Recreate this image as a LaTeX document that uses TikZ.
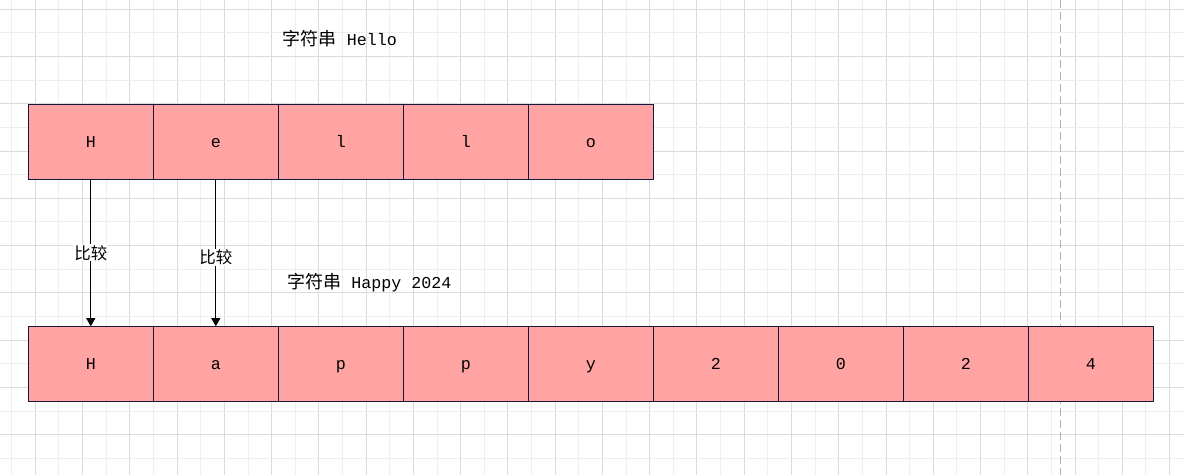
\documentclass[tikz,border=0pt]{standalone}
\usepackage{fontspec}
\newfontfamily\hanzi{Noto Sans CJK SC}
\newfontfamily\latinmono{Liberation Mono}
\usetikzlibrary{arrows.meta, positioning}
\definecolor{cellred}{RGB}{255,163,163}
\definecolor{celledge}{RGB}{22,24,66}
\definecolor{gridminor}{RGB}{238,238,238}
\definecolor{gridmajor}{RGB}{219,219,219}
\definecolor{guidegray}{RGB}{178,178,178}

\begin{document}
\begin{tikzpicture}[x=1pt,y=-1pt,
    cell/.style={draw=celledge, fill=cellred, line width=1.1pt, minimum width=125pt, minimum height=75pt,
      inner sep=0pt, outer sep=0pt, text height=14pt, text depth=3pt,
      font=\latinmono\fontsize{16.67}{20}\selectfont},
    caption/.style={inner sep=0pt, font=\latinmono\fontsize{16.67}{20}\selectfont},
    cmp/.style={line width=1pt, -{Triangle[width=9pt,length=8pt]}},
    cmplabel/.style={fill=white, inner sep=1pt, font=\hanzi\fontsize{16.5}{18}\selectfont}]
        \useasboundingbox (0,0) rectangle (1184,475);
        \fill[white] (0,0) rectangle (1184,475);
        % background grid
        \foreach \k in {0,...,24} {
          \draw[gridminor, line width=1pt] (11.7+47.26*\k,0) -- (11.7+47.26*\k,475);
          \draw[gridmajor, line width=1pt] (35.33+47.26*\k,0) -- (35.33+47.26*\k,475);
        }
        \foreach \k in {0,...,9} {
          \draw[gridminor, line width=1pt] (0,32.93+47.26*\k) -- (1184,32.93+47.26*\k);
          \draw[gridmajor, line width=1pt] (0,9.3+47.26*\k) -- (1184,9.3+47.26*\k);
        }
        \draw[guidegray, line width=1pt, dash pattern=on 8pt off 4pt] (1060.3,0) -- (1060.3,475);
        % captions
        \node[caption] (cap1) at (339.8,38.5) {{\hanzi\fontsize{18}{20}\selectfont 字符串} Hello};
        \node[caption] (cap2) at (369.3,282.5) {{\hanzi\fontsize{18}{20}\selectfont 字符串} Happy 2024};
        % string Hello
        \node[cell] (s1_1) at (90.8,141.8) {H};
        \node[cell, right=0pt of s1_1] (s1_2) {e};
        \node[cell, right=0pt of s1_2] (s1_3) {l};
        \node[cell, right=0pt of s1_3] (s1_4) {l};
        \node[cell, right=0pt of s1_4] (s1_5) {o};
        % string Happy 2024
        \node[cell] (s2_1) at (90.8,363.7) {H};
        \node[cell, right=0pt of s2_1] (s2_2) {a};
        \node[cell, right=0pt of s2_2] (s2_3) {p};
        \node[cell, right=0pt of s2_3] (s2_4) {p};
        \node[cell, right=0pt of s2_4] (s2_5) {y};
        \node[cell, right=0pt of s2_5] (s2_6) {2};
        \node[cell, right=0pt of s2_6] (s2_7) {0};
        \node[cell, right=0pt of s2_7] (s2_8) {2};
        \node[cell, right=0pt of s2_8] (s2_9) {4};
        % comparisons
        \draw[cmp] (s1_1) -- (s2_1) node[cmplabel, pos=0.5] {比较};
        \draw[cmp] (s1_2) -- (s2_2) node[cmplabel, pos=0.53] {比较};
\end{tikzpicture}
\end{document}
